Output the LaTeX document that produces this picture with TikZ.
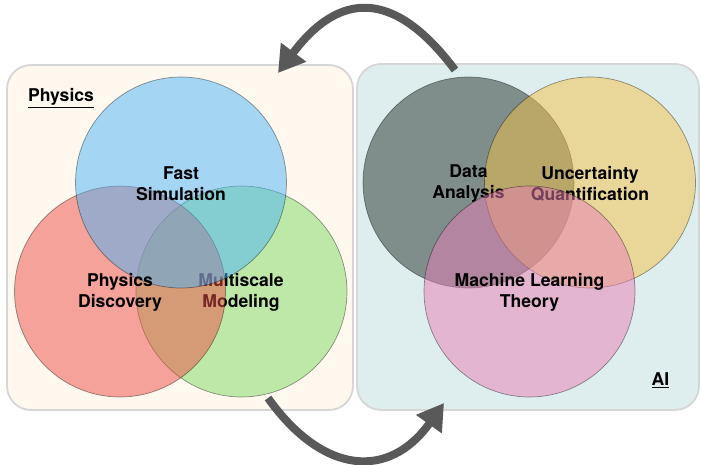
\documentclass[tikz,border=0pt]{standalone}
\usepackage{fontspec}
\setmainfont{TeX Gyre Heros}
\usetikzlibrary{arrows.meta}
\definecolor{physbg}{RGB}{254,248,239}
\definecolor{aibg}{RGB}{222,238,238}
\definecolor{panelline}{RGB}{214,214,214}
\definecolor{cblue}{RGB}{76,179,248}
\definecolor{cred}{RGB}{236,77,70}
\definecolor{cgreen}{RGB}{128,217,98}
\definecolor{cdark}{RGB}{34,46,42}
\definecolor{cyellow}{RGB}{244,194,72}
\definecolor{cpink}{RGB}{232,126,182}
\definecolor{arrowgray}{RGB}{89,89,89}
\begin{document}
\begin{tikzpicture}[x=1pt,y=-1pt,
  panel/.style={draw=panelline, line width=1.8pt, rounded corners=24pt, inner sep=0pt},
  venn/.style={circle, inner sep=0pt, minimum size=211pt, fill opacity=0.5,
    draw=black, draw opacity=0.4, line width=0.7pt},
  lbl/.style={font=\bfseries\fontsize{17.6}{21}\selectfont, align=center, text=black, inner sep=0pt},
  bigarrow/.style={draw=arrowgray, line width=8pt, -{Triangle[length=26pt,width=30pt]}}]
\useasboundingbox (0,0) rectangle (701,465);
% panels
\node[panel, fill=physbg, minimum width=346pt, minimum height=345pt] (phys) at (180,237.5) {};
\node[panel, fill=aibg, minimum width=342pt, minimum height=346pt] (ai) at (528,237) {};
% physics venn
\node[venn, fill=cgreen] (green) at (241.5,291.5) {};
\node[lbl] (multi) at (241,292.5) {Multiscale\\Modeling};
\node[venn, fill=cred] (red) at (120,291.5) {};
\node[venn, fill=cblue] (blue) at (181,182.5) {};
\node[lbl] (disc) at (120,292.5) {Physics\\Discovery};
\node[lbl] (fast) at (181,183.5) {Fast\\Simulation};
% AI venn
\node[venn, fill=cdark] (dark) at (468.5,182.5) {};
\node[venn, fill=cyellow] (yellow) at (590,182.5) {};
\node[lbl] (data) at (468.5,183.5) {Data\\Analysis};
\node[lbl] (unc) at (590,183.5) {Uncertainty\\Quantification};
\node[venn, fill=cpink] (pink) at (529.5,291.5) {};
\node[lbl] (ml) at (529.5,292.5) {Machine Learning\\Theory};
% panel labels
\node[lbl] (physlbl) at (61,98) {\underline{Physics}};
\node[lbl] (ailbl) at (660.5,380) {\underline{AI}};
% arrows
\coordinate (a1s) at (455,70);
\coordinate (a1e) at (278,73);
\draw[bigarrow] (a1s) .. controls (393.8,-11.6) and (339.2,-8.6) .. (a1e);
\coordinate (a2s) at (268,398);
\coordinate (a2e) at (444,403);
\draw[bigarrow] (a2s) .. controls (323,475) and (389,480) .. (a2e);
\end{tikzpicture}
\end{document}
